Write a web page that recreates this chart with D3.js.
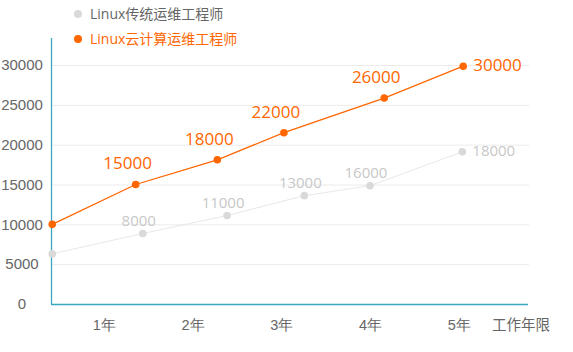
<!DOCTYPE html>
<html>
<head>
<meta charset="utf-8">
<script src="https://cdn.jsdelivr.net/npm/d3@7"></script>
<style>
	body { margin: 0; background: #fff; }
	svg { font-family: "Open Sans", "Noto Sans CJK SC", sans-serif; }
</style>
</head>
<body>
<svg id="chart"></svg>
<script>
// data
const seriesNames = ['Linux传统运维工程师', 'Linux云计算运维工程师'];
const seriesColors = ['#d9d9d9', '#ff6600'];
const lineColors = ['#e8e8e8', '#ff6600'];
const labelColors = ['#c8c8c8', '#ff6600'];
const tradYears = [0.42, 1.44, 2.39, 3.26, 4.0, 5.04];
const tradSalary = [6300, 8850, 11100, 13600, 14850, 19100];
const tradLabels = ['', '8000', '11000', '13000', '16000', '18000'];
const cloudYears = [0.42, 1.36, 2.28, 3.03, 4.16, 5.05];
const cloudSalary = [10000, 15000, 18100, 21500, 25850, 29850];
const cloudLabels = ['', '15000', '18000', '22000', '26000', '30000'];
const yearTicks = [1, 2, 3, 4, 5];
const yearTickLabels = ['1年', '2年', '3年', '4年', '5年'];
const salaryTicks = [0, 5000, 10000, 15000, 20000, 25000, 30000];
const xAxisName = '工作年限';

const canvasWidth = 573;
const canvasHeight = 352;
const axisColor = '#3aa6c0';
const textColor = '#666';

let svg = d3.select('#chart')
	.attr('width', canvasWidth)
	.attr('height', canvasHeight);

let x_scale = d3.scaleLinear()
	.domain([0.406, 5.78])
	.range([51, 528]);
let y_scale = d3.scaleLinear()
	.domain([0, 30000])
	.range([304, 65]);

// grid lines
svg.append('g')
	.selectAll('line')
	.data(salaryTicks.filter((d) => d > 0)).enter()
	.append('line')
	.attr('x1', x_scale.range()[0])
	.attr('x2', x_scale.range()[1] + 1)
	.attr('y1', (d) => y_scale(d) + 0.5)
	.attr('y2', (d) => y_scale(d) + 0.5)
	.attr('stroke', '#ebebeb')
	.attr('stroke-width', 1);

// y axis
let y_axis = d3.axisLeft(y_scale)
	.tickValues(salaryTicks)
	.tickFormat(d3.format('d'))
	.tickSize(0)
	.tickPadding(0);
let yAxisG = svg.append('g')
	.attr('transform', 'translate(22,0)')
	.call(y_axis);
yAxisG.select('.domain').remove();
yAxisG.selectAll('text')
	.attr('text-anchor', 'middle')
	.attr('fill', textColor)
	.style('font-size', '15px');

svg.append('line')
	.attr('x1', 51.5).attr('x2', 51.5)
	.attr('y1', 38).attr('y2', y_scale(0))
	.attr('stroke', axisColor)
	.attr('stroke-width', 1.3);

// x axis
let x_axis = d3.axisBottom(x_scale)
	.tickValues(yearTicks)
	.tickFormat((d, i) => yearTickLabels[i])
	.tickSize(0)
	.tickPadding(16);
let xAxisG = svg.append('g')
	.attr('transform', `translate(0,${y_scale(0)})`)
	.call(x_axis);
xAxisG.select('.domain').remove();
xAxisG.selectAll('text')
	.attr('fill', textColor)
	.style('font-size', '14.5px');

svg.append('line')
	.attr('x1', 51).attr('x2', 528)
	.attr('y1', y_scale(0) + 0.5).attr('y2', y_scale(0) + 0.5)
	.attr('stroke', axisColor)
	.attr('stroke-width', 1.3);

svg.append('text')
	.attr('x', 521)
	.attr('y', y_scale(0) + 16)
	.attr('dy', '0.71em')
	.attr('text-anchor', 'middle')
	.attr('fill', textColor)
	.style('font-size', '14.5px')
	.text(xAxisName);

// series
const series = [
	{years: tradYears, salary: tradSalary, labels: tradLabels, size: 15, lift: 13, width: 1, r: 3.8},
	{years: cloudYears, salary: cloudSalary, labels: cloudLabels, size: 17, lift: 21, width: 1.3, r: 3.8}
];

let line = d3.line()
	.x((d) => x_scale(d[0]))
	.y((d) => y_scale(d[1]));

series.forEach((s, si) => {
	let pts = s.years.map((yr, i) => [yr, s.salary[i], s.labels[i]]);
	let g = svg.append('g');
	g.append('path')
		.attr('d', line(pts))
		.attr('fill', 'none')
		.attr('stroke', lineColors[si])
		.attr('stroke-width', s.width);
	g.selectAll('circle')
		.data(pts).enter()
		.append('circle')
		.attr('cx', (d) => x_scale(d[0]))
		.attr('cy', (d) => y_scale(d[1]))
		.attr('r', s.r)
		.attr('fill', seriesColors[si]);
	g.selectAll('text')
		.data(pts).enter()
		.append('text')
		.attr('x', (d, i) => i == pts.length - 1 ? x_scale(d[0]) + 10 : x_scale(d[0]) - (si ? 8 : 4))
		.attr('y', (d, i) => i == pts.length - 1 ? y_scale(d[1]) - 1 : y_scale(d[1]) - s.lift)
		.attr('dy', '0.35em')
		.attr('text-anchor', (d, i) => i == pts.length - 1 ? 'start' : 'middle')
		.attr('fill', labelColors[si])
		.style('font-size', s.size + 'px')
		.text((d) => d[2]);
});

// legend
let legend = svg.append('g')
	.selectAll('g')
	.data(seriesNames).enter()
	.append('g')
	.attr('transform', (d, i) => `translate(78,${14 + i * 25})`);
legend.append('circle')
	.attr('r', 4)
	.attr('fill', (d, i) => seriesColors[i]);
legend.append('text')
	.attr('x', 12)
	.attr('dy', '0.35em')
	.attr('fill', (d, i) => i ? '#ff6600' : textColor)
	.style('font-size', '14px')
	.text((d) => d);
</script>
</body>
</html>
